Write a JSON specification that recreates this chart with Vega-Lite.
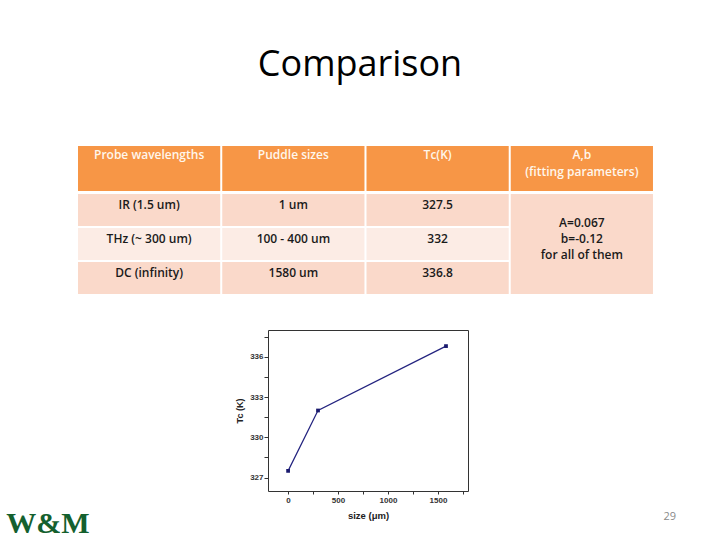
{
  "$schema": "https://vega.github.io/schema/vega-lite/v6.json",
  "background": "white",
  "padding": {"left": 6, "top": 47, "right": 0, "bottom": 0},
  "config": {"view": {"stroke": null}, "font": "Open Sans"},
  "bounds": "flush",
  "columns": 2,
  "spacing": {"row": 3, "column": 0},
  "align": "each",
  "center": {"row": false, "column": true},
  "concat": [
    {"width": 60, "height": 45, "data": {"values": []}, "mark": {"type": "point", "opacity": 0}},
    {
      "width": 640,
      "height": 45,
      "title": {"text": "Comparison", "fontSize": 36, "font": "Open Sans", "fontWeight": "normal", "color": "#000000", "anchor": "middle", "baseline": "alphabetic", "offset": 34, "dx": -38},
      "data": {"values": [
        {"col": "c1", "row": "h", "text": "Probe wavelengths"},
        {"col": "c2", "row": "h", "text": "Puddle sizes"},
        {"col": "c3", "row": "h", "text": "Tc(K)"},
        {"col": "c4", "row": "h", "text": "A,b\n(fitting parameters)"}
      ]},
      "encoding": {
        "x": {"field": "col", "type": "nominal", "scale": {"type": "band", "domain": ["c1", "c2", "c3", "c4"], "paddingInner": 0.014, "paddingOuter": 0.2254, "align": 0}, "axis": null}
      },
      "layer": [
        {"mark": {"type": "rect", "color": "#F79646"}},
        {
          "mark": {"type": "text", "color": "#FFF6EC", "fontSize": 12, "fontWeight": 600, "baseline": "top", "lineBreak": "\n", "lineHeight": 17},
          "encoding": {
            "text": {"field": "text"},
            "y": {"field": "row", "type": "nominal", "bandPosition": 0.09, "scale": {"type": "band", "paddingInner": 0, "paddingOuter": 0}, "axis": null}
          }
        }
      ]
    },
    {"width": 60, "height": 133, "data": {"values": []}, "mark": {"type": "point", "opacity": 0}},
    {
      "width": 640,
      "height": 133,
      "resolve": {"scale": {"y": "independent"}},
      "layer": [
        {
          "data": {"values": [
            {"row": "r1", "col": "c1", "text": "IR (1.5 um)"},
            {"row": "r1", "col": "c2", "text": "1 um"},
            {"row": "r1", "col": "c3", "text": "327.5"},
            {"row": "r2", "col": "c1", "text": "THz (~ 300 um)"},
            {"row": "r2", "col": "c2", "text": "100 - 400 um"},
            {"row": "r2", "col": "c3", "text": "332"},
            {"row": "r3", "col": "c1", "text": "DC (infinity)"},
            {"row": "r3", "col": "c2", "text": "1580 um"},
            {"row": "r3", "col": "c3", "text": "336.8"}
          ]},
          "encoding": {
            "x": {"field": "col", "type": "nominal", "scale": {"type": "band", "domain": ["c1", "c2", "c3", "c4"], "paddingInner": 0.014, "paddingOuter": 0.2254, "align": 0}, "axis": null},
            "y": {"field": "row", "type": "nominal", "scale": {"type": "band", "domain": ["r1", "r2", "r3"], "paddingInner": 0.06, "paddingOuter": 0.4855, "align": 0}, "axis": null}
          },
          "layer": [
            {
              "mark": {"type": "rect"},
              "encoding": {
                "color": {"field": "row", "type": "nominal", "scale": {"domain": ["r1", "r2", "r3"], "range": ["#FAD9CA", "#FCECE5", "#FAD9CA"]}, "legend": null}
              }
            },
            {
              "mark": {"type": "text", "fontSize": 12, "fontWeight": 600, "color": "#1a1a1a", "baseline": "middle"},
              "encoding": {
                "y": {"field": "row", "type": "nominal", "bandPosition": 0.34, "scale": {"type": "band", "domain": ["r1", "r2", "r3"], "paddingInner": 0.06, "paddingOuter": 0.4855, "align": 0}, "axis": null},
                "text": {"field": "text"}
              }
            }
          ]
        },
        {
          "data": {"values": [{"col": "c4", "span": "all", "text": "A=0.067\nb=-0.12\nfor all of them"}]},
          "encoding": {
            "x": {"field": "col", "type": "nominal", "scale": {"type": "band", "domain": ["c1", "c2", "c3", "c4"], "paddingInner": 0.014, "paddingOuter": 0.2254, "align": 0}, "axis": null},
            "y": {"field": "span", "type": "nominal", "scale": {"type": "band", "domain": ["all"], "paddingInner": 0, "paddingOuter": 0.165, "align": 0}, "axis": null}
          },
          "layer": [
            {"mark": {"type": "rect", "color": "#FAD9CA"}},
            {
              "mark": {"type": "text", "fontSize": 12, "fontWeight": 600, "color": "#1a1a1a", "baseline": "middle", "lineBreak": "\n", "lineHeight": 16},
              "encoding": {
                "y": {"field": "span", "type": "nominal", "bandPosition": 0.29, "scale": {"type": "band", "domain": ["all"], "paddingInner": 0, "paddingOuter": 0.165, "align": 0}, "axis": null},
                "text": {"field": "text"}
              }
            }
          ]
        }
      ]
    },
    {"width": 60, "height": 161, "data": {"values": []}, "mark": {"type": "point", "opacity": 0}},
    {
      "width": 200,
      "height": 161,
      "view": {"stroke": "#333333", "strokeWidth": 1},
      "data": {"values": [
        {"size": 1, "tc": 327.5},
        {"size": 300, "tc": 332},
        {"size": 1580, "tc": 336.8}
      ]},
      "encoding": {
        "x": {
          "field": "size", "type": "quantitative",
          "scale": {"domain": [-200, 1800], "nice": false, "zero": false},
          "axis": {
            "title": "size (μm)", "values": [0, 250, 500, 750, 1000, 1250, 1500, 1750],
            "labelExpr": "datum.value % 500 == 0 ? format(datum.value, 'd') : ''",
            "grid": false, "domain": false, "tickColor": "#333333", "tickSize": 3,
            "labelFont": "Liberation Sans", "labelFontSize": 8, "labelFontWeight": "bold", "labelColor": "#333333",
            "labelPadding": 2, "labelFlush": false, "labelOverlap": false,
            "titleFont": "Liberation Sans", "titleFontSize": 9.5, "titleFontWeight": "bold", "titleColor": "#222222", "titlePadding": 6
          }
        },
        "y": {
          "field": "tc", "type": "quantitative",
          "scale": {"domain": [326, 338], "nice": false, "zero": false},
          "axis": {
            "title": "Tc (K)", "values": [327, 328.5, 330, 331.5, 333, 334.5, 336, 337.5],
            "labelExpr": "datum.value % 3 == 0 ? format(datum.value, 'd') : ''",
            "grid": false, "domain": false, "tickColor": "#333333", "tickSize": 4,
            "labelFont": "Liberation Sans", "labelFontSize": 8, "labelFontWeight": "bold", "labelColor": "#333333",
            "labelPadding": 1, "labelFlush": false, "labelOverlap": false,
            "titleFont": "Liberation Sans", "titleFontSize": 9, "titleFontWeight": "bold", "titleColor": "#222222", "titlePadding": 5
          }
        }
      },
      "layer": [
        {"mark": {"type": "line", "color": "#23237f", "strokeWidth": 1.2}},
        {"mark": {"type": "point", "shape": "square", "filled": true, "size": 14, "color": "#1a1a6e", "opacity": 1}}
      ]
    },
    {
      "width": 60,
      "height": 39,
      "data": {"values": [{"label": "W&M"}]},
      "mark": {"type": "text", "font": "Liberation Serif", "fontWeight": "bold", "fontSize": 30, "color": "#14602e", "baseline": "alphabetic"},
      "encoding": {"text": {"field": "label"}, "y": {"value": "height"}}
    },
    {
      "width": 598,
      "height": 26,
      "data": {"values": [{"label": "29"}]},
      "mark": {"type": "text", "fontSize": 11, "color": "#8a8a8a", "baseline": "alphabetic", "align": "right", "font": "Open Sans"},
      "encoding": {"text": {"field": "label"}, "x": {"value": "width"}, "y": {"value": "height"}}
    }
  ]
}
